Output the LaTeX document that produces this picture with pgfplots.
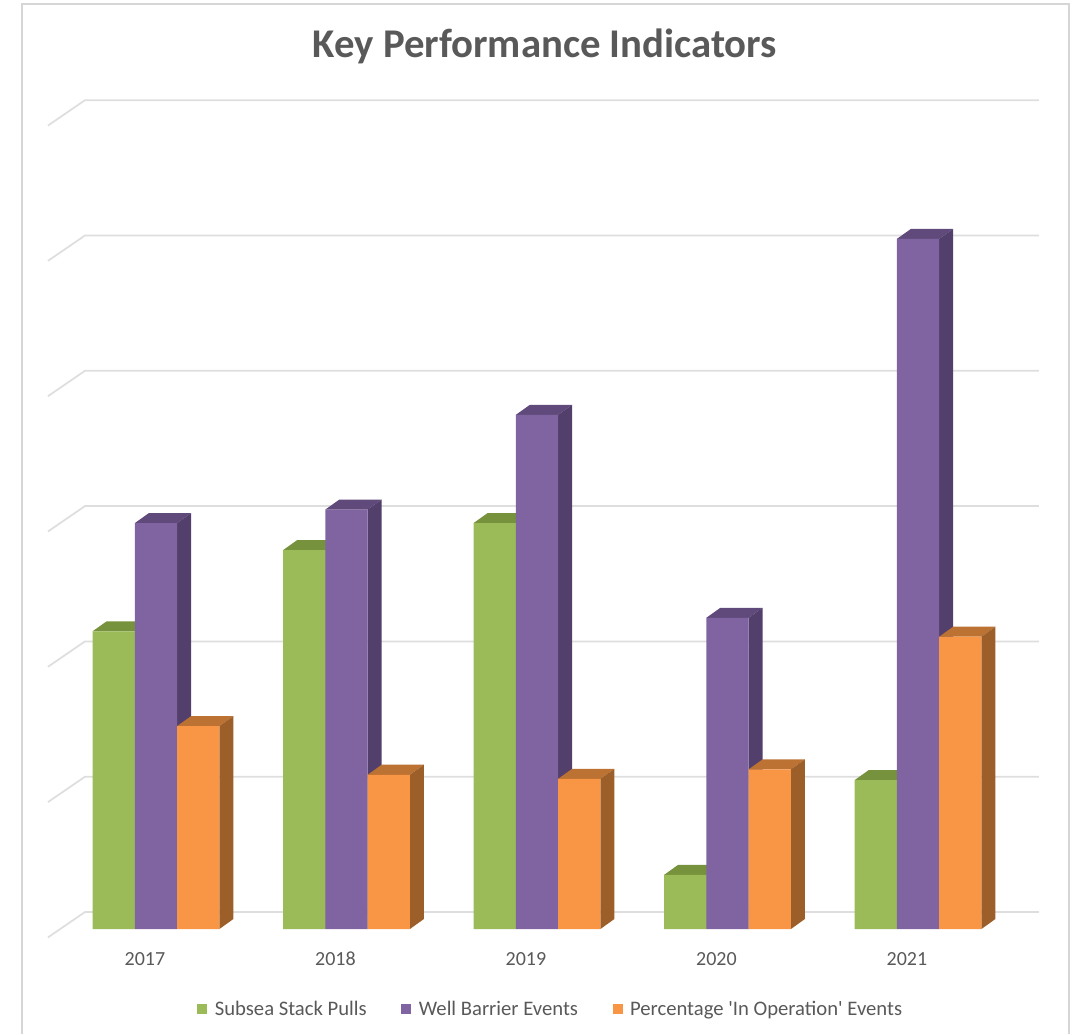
\documentclass[border=0pt]{standalone}
\usepackage{pgfplots}
\usepackage{pgfplotstable}
\pgfplotsset{compat=1.18}
\usepackage{fontspec}
\setmainfont{Carlito}
\newfontfamily\plainf{Carlito}
\definecolor{txt}{HTML}{595959}
\definecolor{gridc}{HTML}{DEDEDE}
\definecolor{framec}{HTML}{D6D6D6}
\definecolor{gf}{HTML}{9BBB59}
\definecolor{gt}{HTML}{76923C}
\definecolor{gs}{HTML}{647D33}
\definecolor{pf}{HTML}{8064A2}
\definecolor{pt}{HTML}{604A7B}
\definecolor{ps}{HTML}{533F6B}
\definecolor{of}{HTML}{F99645}
\definecolor{ot}{HTML}{BC7232}
\definecolor{os}{HTML}{9C5F2A}
\pgfplotstableread{
x g p o
0 22 30 15
1 28 31 11.4
2 30 38 11.1
3 4 23 11.8
4 11 51 21.6
}\kpidata
\newcommand\bardepth[4]{% row, column, bar shift, top colour, side colour via \sidecol
  \pgfplotstablegetelem{#1}{#2}\of\kpidata
  \pgfmathsetmacro\va{\pgfplotsretval}
  \pgfmathsetmacro\vb{\va+0.74}
  \pgfmathsetmacro\xa{#1+#3-0.111}
  \pgfmathsetmacro\xb{#1+#3+0.111}
  \pgfmathsetmacro\xc{\xa+0.0735}
  \pgfmathsetmacro\xd{\xb+0.0735}
  \edef\tmp{\noexpand\addplot[fill=#4,draw=none,forget plot] coordinates {(\xa,\va) (\xc,\vb) (\xd,\vb) (\xb,\va) (\xa,\va)};}\tmp
  \edef\tmp{\noexpand\addplot[fill=\sidecol,draw=none,forget plot] coordinates {(\xb,0) (\xd,0.74) (\xd,\vb) (\xb,\va) (\xb,0)};}\tmp
}
\begin{document}
\begin{tikzpicture}
\begin{axis}[
  scale only axis, width=807pt, height=775.5pt,
  xmin=-0.8189, xmax=4.8294, ymin=-7.76, ymax=68.66,
  axis x line=middle, axis y line=none,
  x axis line style={draw=none,-},
  major tick length=0pt,
  ytick=\empty,
  xtick={-0.058,0.942,1.942,2.942,3.942},
  xticklabels={2017,2018,2019,2020,2021},
  xticklabel style={font=\fontsize{15}{17}\selectfont,text=txt,yshift=-14pt,text height=10pt,text depth=0pt},
  clip=false,
  title={\textbf{Key Performance Indicators}},
  title style={at={(axis cs:2.042,65.4)},anchor=center,yshift=-7.5pt,font=\fontsize{30.6}{34}\selectfont,text=txt},
  legend columns=3,
  legend style={at={(rel axis cs:0.1835,0.0242)},anchor=west,draw=none,fill=none,inner sep=0pt,outer sep=0pt,
    font=\plainf\fontsize{15.5}{17}\selectfont,text=txt,
    /tikz/every even column/.append style={column sep=24pt},
    /tikz/every odd column/.append style={column sep=3.5pt}},
  legend image code/.code={\fill[#1,draw=none] (0pt,-3.75pt) rectangle (7.5pt,3.75pt);},
]
\path (rel axis cs:0,0) -- (rel axis cs:1,1);
% gridlines on the back wall and the floor edge
\pgfplotsinvokeforeach{0,10,20,30,40,50,60}{
  \pgfmathsetmacro\gb{#1+1.256}
  \pgfmathsetmacro\gf{#1-0.62}
  \edef\tmp{\noexpand\addplot[color=gridc,line width=1.3pt,forget plot] coordinates {(-0.567,\gf) (-0.3727,\gb) (4.635,\gb)};}\tmp
}
% green
\def\sidecol{gs}
\pgfplotsinvokeforeach{0,1,2,3,4}{\bardepth{#1}{g}{-0.222}{gt}}
\addplot[ybar,bar width=0.222,bar shift=-0.222,fill=gf,draw=none,forget plot] table[x=x,y=g]{\kpidata};
% purple
\def\sidecol{ps}
\pgfplotsinvokeforeach{0,1,2,3,4}{\bardepth{#1}{p}{0}{pt}}
\addplot[ybar,bar width=0.222,bar shift=0,fill=pf,draw=none,forget plot] table[x=x,y=p]{\kpidata};
% orange
\def\sidecol{os}
\pgfplotsinvokeforeach{0,1,2,3,4}{\bardepth{#1}{o}{0.222}{ot}}
\addplot[ybar,bar width=0.222,bar shift=0.222,fill=of,draw=none,forget plot] table[x=x,y=o]{\kpidata};
\addlegendimage{fill=gf}\addlegendentry{Subsea Stack Pulls}
\addlegendimage{fill=pf}\addlegendentry{Well Barrier Events}
\addlegendimage{fill=of}\addlegendentry{Percentage 'In Operation' Events}
\draw[framec,line width=1pt] (axis cs:-0.7038,-7.76) -- (axis cs:-0.7038,68.36) -- (axis cs:4.7924,68.36) -- (axis cs:4.7924,-7.76);
\end{axis}
\end{tikzpicture}
\end{document}
